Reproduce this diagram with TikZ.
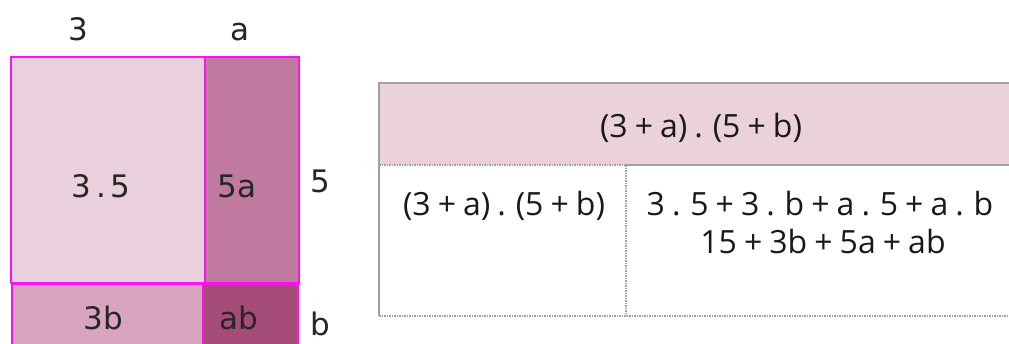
\documentclass[tikz,border=0pt]{standalone}
\usepackage{fontspec}
\setmainfont{Open Sans}
\newfontfamily\dejavu{DejaVu Sans}
\newcommand\tightspaces{\spaceskip=0.22em\relax}
\definecolor{mag}{HTML}{FF10F0}
\definecolor{c35}{HTML}{EACFDC}
\definecolor{c5a}{HTML}{C17A9F}
\definecolor{c3b}{HTML}{D8A4BF}
\definecolor{cab}{HTML}{A54B77}
\definecolor{tgray}{HTML}{A0A0A0}
\definecolor{thead}{HTML}{EAD1DC}
\tikzset{
  cell/.style={draw=mag, line width=1.6pt, anchor=north west, inner sep=0pt, outer sep=0pt},
  lbl/.style={font=\dejavu\fontsize{31}{36}\selectfont, text=black!85, anchor=base, inner sep=0pt},
  ttxt/.style={font=\fontsize{32}{38}\selectfont, execute at begin node=\tightspaces, text=black!90, anchor=base, inner sep=0pt},
  tsolid/.style={draw=tgray, line width=2pt},
  tdot/.style={draw=tgray, line width=2pt, dash pattern=on 1.5pt off 1pt}
}
\begin{document}
\begin{tikzpicture}[x=1pt,y=-1pt]
\useasboundingbox (0,0) rectangle (1009,343);
\clip (0,0) rectangle (1009,343);
% area model
\node[cell, fill=c35, minimum width=194pt, minimum height=226pt] (r35) at (11,57) {};
\node[cell, fill=c5a, minimum width=94pt, minimum height=226pt] (r5a) at (205,57) {};
\node[cell, fill=c3b, minimum width=191pt, minimum height=80pt] (r3b) at (12,284) {};
\node[cell, fill=cab, minimum width=95pt, minimum height=80pt] (rab) at (203,284) {};
\node[lbl] (t35) at (101,197) {3\kern5pt.\kern5pt5};
\node[lbl] (t5a) at (237,197) {5a};
\node[lbl] (t3b) at (103,329) {3b};
\node[lbl] (tab) at (239,329) {ab};
\node[lbl] (l3) at (78,40) {3};
\node[lbl] (la) at (240,40) {a};
\node[lbl] (l5) at (320,192) {5};
\node[lbl] (lb) at (320,335) {b};
% table
\fill[thead] (379,83) rectangle (1012,165);
\coordinate (tl) at (379,83);
\coordinate (tr) at (1012,83);
\coordinate (hl) at (379,165);
\coordinate (hm) at (626,165);
\coordinate (hr) at (1012,165);
\coordinate (bl) at (379,316);
\coordinate (bm) at (626,316);
\coordinate (br) at (1012,316);
\draw[tsolid] (tr) -- (tl) -- (bl);
\draw[tsolid] (hm) -- (hr);
\draw[tdot] (hl) -- (hm);
\draw[tdot] (hm) -- (bm);
\draw[tdot] (bl) -- (br);
\node[ttxt] (head) at (701,137) {(3 + a) . (5 + b)};
\node[ttxt] (left) at (504,215) {(3 + a) . (5 + b)};
\node[ttxt] (r1) at (820,215) {3 . 5 + 3 . b + a . 5 + a . b};
\node[ttxt] (r2) at (823,253) {15 + 3b + 5a + ab};
\end{tikzpicture}
\end{document}
